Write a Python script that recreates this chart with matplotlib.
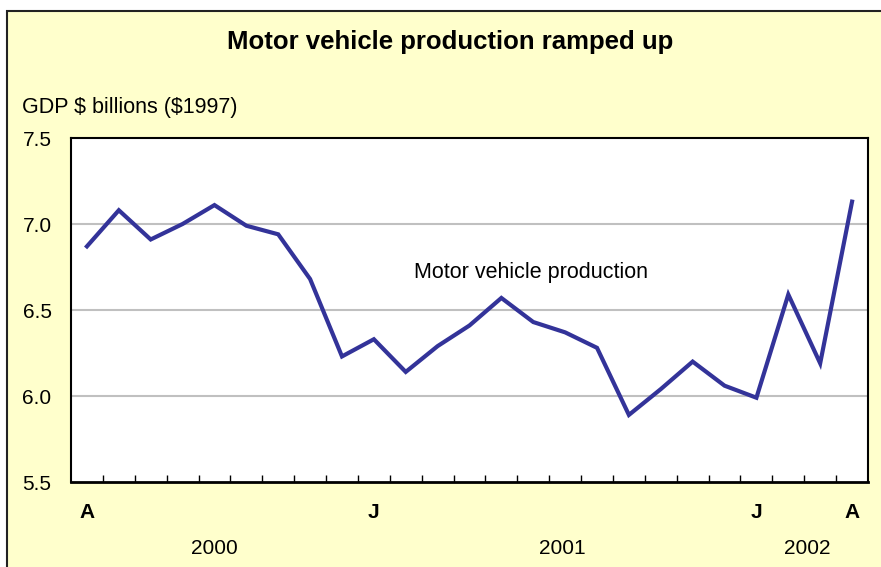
import matplotlib
matplotlib.use("Agg")
import matplotlib.pyplot as plt
from matplotlib.patches import Rectangle
import matplotlib.transforms as mtransforms

plt.rcParams["font.family"] = ["Liberation Sans", "DejaVu Sans"]

# monthly data, April 2000 .. April 2002
values = [6.87, 7.08, 6.91, 7.00, 7.11, 6.99, 6.94, 6.68, 6.23, 6.33,
          6.14, 6.29, 6.41, 6.57, 6.43, 6.37, 6.28, 5.89, 6.04, 6.20,
          6.06, 5.99, 6.59, 6.19, 7.13]
month_labels = {0: "A", 9: "J", 21: "J", 24: "A"}
year_labels = {"2000": 4.0, "2001": 14.9, "2002": 22.6}
y_ticks = [5.5, 6.0, 6.5, 7.0, 7.5]
grid_lines = [6.0, 6.5, 7.0]

W, H = 881, 567
fig = plt.figure(figsize=(W / 100, H / 100), dpi=100, facecolor="white")

# yellow panel with black frame (runs off the right/bottom edge)
fig.add_artist(Rectangle((7 / W, -0.05), 1.1, (H - 11) / H + 0.05,
                         transform=fig.transFigure, facecolor="#FFFFCC",
                         edgecolor="#222222", lw=1.5, zorder=-10))

L, R, T, B = 71, 868, 138, 482
ax = fig.add_axes([L / W, (H - B) / H, (R - L) / W, (B - T) / H])
ax.set_facecolor("white")

x = list(range(len(values)))
for g in grid_lines:
    ax.axhline(g, color="#C0C0C0", lw=1.5, zorder=1)
ax.plot(x, values, color="#333399", lw=3, solid_joinstyle="miter", zorder=3)

ax.set_xlim(-0.5, len(values) - 0.5)
ax.set_ylim(5.5, 7.5)
ax.set_yticks(y_ticks)
ax.set_yticklabels([f"{v:.1f}" for v in y_ticks], fontsize=15)
ax.tick_params(axis="y", length=0, pad=14)
ax.set_xticks([i + 0.5 for i in x[:-1]])
ax.set_xticklabels([])
ax.tick_params(axis="x", direction="in", length=5, width=1, color="black")
for s in ax.spines.values():
    s.set_linewidth(1.5)
    s.set_color("black")
ax.spines["bottom"].set_linewidth(2)

tr = mtransforms.blended_transform_factory(ax.transData, fig.transFigure)
for i, lab in month_labels.items():
    ax.text(i, (H - 513) / H, lab, transform=tr, ha="center", va="center",
            fontsize=15, fontweight="bold")
for lab, xpos in year_labels.items():
    ax.text(xpos, (H - 548) / H, lab, transform=tr, ha="center", va="center",
            fontsize=15)

ax.text(10.25, 6.72, "Motor vehicle production", ha="left", va="center",
        fontsize=15.5)

fig.text(450 / W, (H - 42) / H, "Motor vehicle production ramped up",
         ha="center", va="center", fontsize=18.5, fontweight="bold")
fig.text(22 / W, (H - 108) / H, r"GDP \$ billions (\$1997)", ha="left",
         va="center", fontsize=15.5)

fig.savefig("out.png", dpi=100, facecolor="white")
